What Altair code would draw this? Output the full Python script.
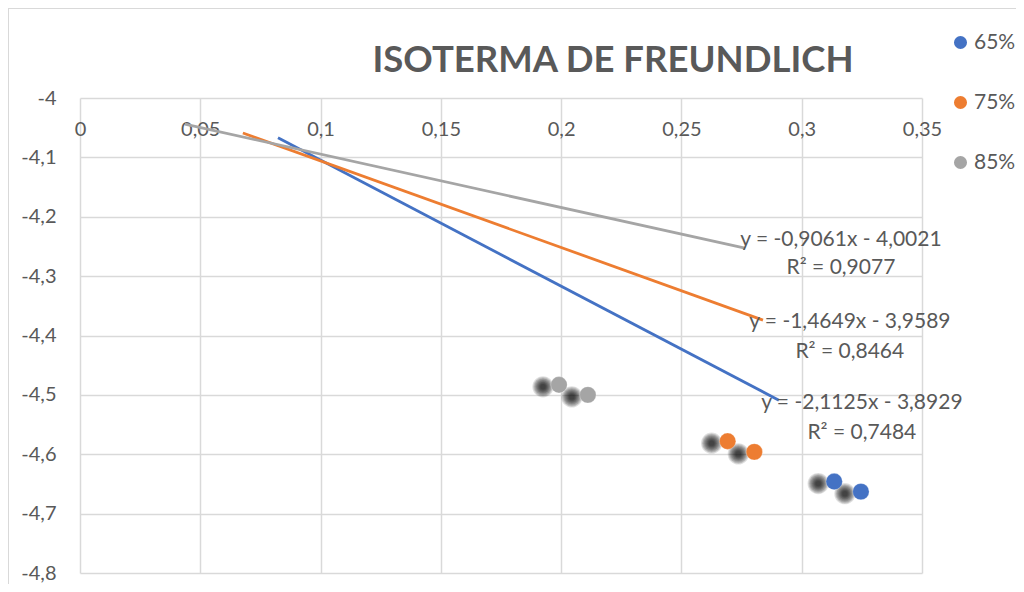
import altair as alt
import pandas as pd

# ---- data ----
title_text = "ISOTERMA DE FREUNDLICH"

series = ["65%", "65%", "75%", "75%", "85%", "85%"]
pt_x = [0.3135, 0.3246, 0.2692, 0.2803, 0.1991, 0.2111]
pt_y = [-4.646, -4.663, -4.578, -4.596, -4.483, -4.500]

# trendline end points (as drawn)
tl_series = ["65%", "65%", "75%", "75%", "85%", "85%"]
tl_x = [0.0823, 0.2905, 0.0677, 0.2839, 0.0436, 0.2764]
tl_y = [-4.067, -4.509, -4.059, -4.374, -4.044, -4.253]

# trendline labels
lab_text = ["y = -0,9061x - 4,0021", "R² = 0,9077",
            "y = -1,4649x - 3,9589", "R² = 0,8464",
            "y = -2,1125x - 3,8929", "R² = 0,7484"]
lab_x = [0.3163, 0.3163, 0.3200, 0.3200, 0.3250, 0.3250]
lab_y = [-4.239, -4.286, -4.377, -4.428, -4.514, -4.564]

x_ticks = [0, 0.05, 0.1, 0.15, 0.2, 0.25, 0.3, 0.35]
y_ticks = [-4.8, -4.7, -4.6, -4.5, -4.4, -4.3, -4.2, -4.1, -4.0]

cats = ["65%", "75%", "85%"]
colors = ["#4472C4", "#ED7D31", "#A5A5A5"]

pts = pd.DataFrame({"s": series, "x": pt_x, "y": pt_y})
tl = pd.DataFrame({"s": tl_series, "x": tl_x, "y": tl_y})
labs = pd.DataFrame({"t": lab_text, "x": lab_x, "y": lab_y})
ttl = pd.DataFrame({"t": [title_text]})

FONT = "Lato"
TXT = "#595959"
GRID = "#d9d9d9"

xfmt = "replace(replace(format(datum.value, '.2~f'), '.', ','), '\u2212', '-')"
yfmt = "replace(replace(format(datum.value, '.1~f'), '.', ','), '\u2212', '-')"

xs = alt.Scale(domain=[0, 0.35], nice=False, zero=False)
ys = alt.Scale(domain=[-4.8, -4.0], nice=False, zero=False)

X = alt.X("x:Q", scale=xs, title=None,
          axis=alt.Axis(orient="bottom", offset=-475, values=x_ticks, labelExpr=xfmt,
                        domain=False, ticks=False, labelPadding=21, grid=True,
                        gridColor=GRID, gridWidth=1.5, labelFont=FONT, labelFontSize=20,
                        labelColor=TXT, labelFlush=False, labelOverlap=False))
Y = alt.Y("y:Q", scale=ys, title=None,
          axis=alt.Axis(values=y_ticks, labelExpr=yfmt, domain=False, ticks=False,
                        labelPadding=24, grid=True, gridColor=GRID, gridWidth=1.5,
                        labelFont=FONT, labelFontSize=20, labelColor=TXT,
                        labelFlush=False, labelOverlap=False))

base = alt.Chart(pts)

# soft marker shadow (Excel shadow effect): stacked translucent discs
shadow_radii = [12, 11, 10, 9, 8, 7, 6, 5, 4, 3]
shadow_layers = []
for i, r in enumerate(shadow_radii):
    enc = dict(x=X, y=Y) if i == 0 else dict(x="x:Q", y="y:Q")
    shadow_layers.append(
        base.mark_circle(color="black", opacity=0.12, size=3.1416 * r * r,
                         xOffset=-16, yOffset=2).encode(**enc))

lines = alt.Chart(tl).mark_line(strokeWidth=2.8).encode(
    x="x:Q", y="y:Q",
    color=alt.Color("s:N", scale=alt.Scale(domain=cats, range=colors), legend=None),
    detail="s:N")

points = base.mark_circle(size=270, opacity=1, stroke="white", strokeWidth=0.6, strokeOpacity=0.4).encode(
    x="x:Q", y="y:Q",
    color=alt.Color("s:N", scale=alt.Scale(domain=cats, range=colors),
                    legend=alt.Legend(title=None, orient="none", legendX=870, legendY=-66,
                                      symbolType="circle", symbolSize=170, symbolStrokeWidth=0,
                                      labelFont=FONT, labelFontSize=21, labelColor=TXT,
                                      labelOffset=3, rowPadding=38, padding=0)))

texts = alt.Chart(labs).mark_text(font=FONT, fontSize=21, color=TXT, align="center",
                                  baseline="middle").encode(x="x:Q", y="y:Q", text="t:N")

title_mark = alt.Chart(ttl).mark_text(font=FONT, fontSize=36.5, fontWeight="bold", color=TXT,
                                      align="center", baseline="alphabetic").encode(
    x=alt.value(533), y=alt.value(-26), text="t:N")

border_top = alt.Chart(pts).mark_rule(color=GRID, strokeWidth=1.5).encode(
    x=alt.value(-72), x2=alt.value(940), y=alt.value(-90))
border_left = alt.Chart(pts).mark_rule(color=GRID, strokeWidth=1.5).encode(
    x=alt.value(-72), y=alt.value(-90), y2=alt.value(490))

chart = alt.layer(*shadow_layers, lines, points, texts, title_mark, border_top, border_left).resolve_scale(
    color="independent"
).properties(
    width=842, height=475,
    autosize=alt.AutoSizeParams(type="none"),
    padding={"left": 72, "top": 90, "right": 94, "bottom": 11},
).configure_view(stroke=None)

chart.save("out.html", embed_options={"renderer": "svg", "actions": False})
